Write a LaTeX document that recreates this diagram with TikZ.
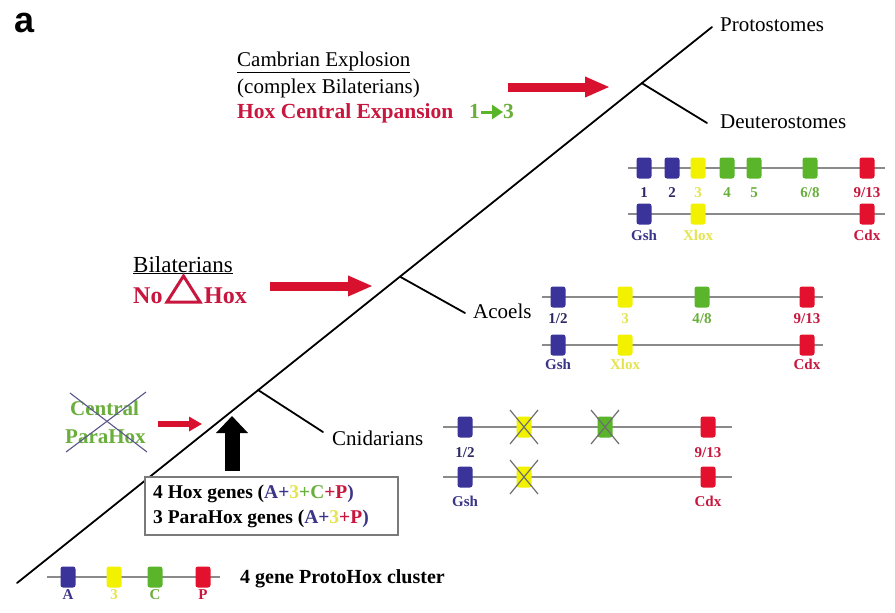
\documentclass[tikz,border=0pt]{standalone}
\usepackage{fontspec}
\setmainfont{Liberation Serif}
\newfontfamily\panelfont{Liberation Sans}
\usetikzlibrary{arrows.meta,calc}

\definecolor{hblue}{HTML}{3A3399}
\definecolor{hyellow}{HTML}{F2F200}
\definecolor{hgreen}{HTML}{5BB52B}
\definecolor{hred}{HTML}{E3112D}
\definecolor{lnavy}{HTML}{2E2A62}
\definecolor{lblue}{HTML}{3B3588}
\definecolor{lyellow}{HTML}{E4E44E}
\definecolor{lgreen}{HTML}{6AAE3C}
\definecolor{lred}{HTML}{C8163E}
\definecolor{arrowred}{HTML}{D8112E}
\definecolor{chromgray}{HTML}{8A8A8A}
\definecolor{crossgray}{HTML}{6E6E6E}
\definecolor{boxgray}{HTML}{7A7A7A}

\tikzset{
  txt/.style={inner sep=0pt, anchor=base west, font=\fontsize{21}{24}\selectfont},
  btxt/.style={inner sep=0pt, anchor=base west, font=\fontsize{21.5}{24}\selectfont\bfseries},
  gene/.style={rectangle, rounded corners=2.5pt, minimum width=15pt,
    minimum height=21pt, inner sep=0pt, draw=none},
  glab/.style={inner sep=0pt, anchor=base, font=\fontsize{15}{18}\selectfont\bfseries},
  chrom/.style={draw=chromgray, line width=1.3pt},
  branch/.style={draw=black, line width=1.8pt, line cap=round},
  redarrow/.style={draw=arrowred, line width=9pt,
    -{Triangle[length=25pt,width=19pt]}},
  knockout/.style={draw=crossgray, line width=1.2pt},
}

% gene box with its label: name, x, y, fill, label text, label colour, label baseline
\newcommand\hgene[7]{%
  \node[gene, fill=#4] (#1) at (#2,#3) {};
  \node[glab, text=#6] (#1-l) at (#2,#7) {#5};}
% gene box struck out with a cross
\newcommand\lostgene[4]{%
  \node[gene, fill=#4] (#1) at (#2,#3) {};
  \draw[knockout] ([shift={(-14,-17)}]#1.center) -- ([shift={(14,17)}]#1.center);
  \draw[knockout] ([shift={(14,-17)}]#1.center) -- ([shift={(-14,17)}]#1.center);}

\begin{document}
\begin{tikzpicture}[x=1pt,y=-1pt]
\useasboundingbox (0,0) rectangle (895,613);
\fill[white] (0,0) rectangle (895,613);

% panel letter
\node[inner sep=0pt, anchor=base west, font=\panelfont\fontsize{36}{40}\selectfont\bfseries]
  (panel) at (14,32) {a};

% ---------- phylogenetic tree ----------
\coordinate (root) at (17,583);
\coordinate (apex) at (712,27);
\draw[branch] (root) -- (apex);
\coordinate (nCni) at ($(root)!0.347!(apex)$);
\coordinate (nAco) at ($(root)!0.551!(apex)$);
\coordinate (nDeu) at ($(root)!0.899!(apex)$);
\coordinate (eCni) at (323,432);
\coordinate (eAco) at (465,313);
\coordinate (eDeu) at (707,123);
\draw[branch] (nCni) -- (eCni);
\draw[branch] (nAco) -- (eAco);
\draw[branch] (nDeu) -- (eDeu);

\node[txt] (proto) at (720,31) {Protostomes};
\node[txt] (deut) at (720,128) {Deuterostomes};
\node[txt] (acoel) at (473,318) {Acoels};
\node[txt] (cnid) at (332,445) {Cnidarians};

% ---------- events along the tree ----------
\node[txt] (camb) at (237,66) {\underline{Cambrian Explosion}};
\node[txt] (cbil) at (237,93) {(complex Bilaterians)};
\node[btxt, text=lred] (hce) at (237,118) {Hox Central Expansion};
\node[btxt, text=lgreen] (one) at (469,118) {1};
\node[btxt, text=lgreen] (three) at (503,118) {3};
\draw[draw=hgreen, line width=3pt, -{Triangle[length=11pt,width=14pt]}]
  ([yshift=6pt]one.base east) ++(1,0) coordinate (ga) (ga) -- ([yshift=6pt]three.base west);

\coordinate (aTop0) at (508,87);
\coordinate (aTop1) at (610,87);
\draw[redarrow] (aTop0) -- (aTop1);

\node[txt, font=\fontsize{23}{26}\selectfont] (bil) at (133,272) {\underline{Bilaterians}};
\node[inner sep=0pt, anchor=base west, text=lred, font=\fontsize{24}{28}\selectfont\bfseries]
  (no) at (133,303) {No};
\coordinate (tA) at (167,302);
\coordinate (tB) at (200,302);
\coordinate (tC) at (183.5,276);
\draw[draw=lred, line width=3pt, line join=miter] (tA) -- (tB) -- (tC) -- cycle;
\node[inner sep=0pt, anchor=base west, text=lred, font=\fontsize{24}{28}\selectfont\bfseries]
  (hox) at (204,303) {Hox};
\coordinate (aMid0) at (270,286);
\coordinate (aMid1) at (373,286);
\draw[redarrow] (aMid0) -- (aMid1);

\node[inner sep=0pt, anchor=base west, text=lgreen, font=\fontsize{21}{24}\selectfont\bfseries]
  (central) at (70,415) {Central};
\node[inner sep=0pt, anchor=base west, text=lgreen, font=\fontsize{21}{24}\selectfont\bfseries]
  (parahox) at (65,443) {ParaHox};
\coordinate (xA) at (70,393);
\coordinate (xB) at (147,452);
\coordinate (xC) at (146,392);
\coordinate (xD) at (66,452);
\draw[draw=crossgray!80!blue, line width=1.1pt] (xA) -- (xB);
\draw[draw=crossgray!80!blue, line width=1.1pt] (xC) -- (xD);
\coordinate (aLow0) at (158,424);
\coordinate (aLow1) at (202,424);
\draw[draw=arrowred, line width=6pt, -{Triangle[length=13pt,width=14pt]}] (aLow0) -- (aLow1);

% black arrow from the gene-count box
\coordinate (bA0) at (232,471);
\coordinate (bA1) at (232,416);
\draw[draw=black, line width=15pt, -{Triangle[length=17pt,width=31pt]}] (bA0) -- (bA1);

\node[draw=boxgray, line width=1.5pt, fill=white, minimum width=253pt, minimum height=58pt,
  inner sep=0pt] (genebox) at (271.5,506) {};
\node[btxt, font=\fontsize{19.5}{22}\selectfont\bfseries] (hoxline) at (153,498)
  {4 Hox genes (\textcolor{lblue}{A+}\textcolor{lyellow}{3}\textcolor{lgreen}{+C}\textcolor{lred}{+P}\textcolor{lblue}{)}};
\node[btxt, font=\fontsize{19.5}{22}\selectfont\bfseries] (paraline) at (153,523)
  {3 ParaHox genes (\textcolor{lblue}{A+}\textcolor{lyellow}{3}\textcolor{lred}{+P}\textcolor{lblue}{)}};

% ---------- gene clusters ----------
% Deuterostomes
\coordinate (dA0) at (628,168); \coordinate (dA1) at (885,168);
\coordinate (dB0) at (628,214); \coordinate (dB1) at (885,214);
\draw[chrom] (dA0) -- (dA1);
\draw[chrom] (dB0) -- (dB1);
\hgene{d1}{644}{168}{hblue}{1}{lnavy}{197}
\hgene{d2}{672}{168}{hblue}{2}{lnavy}{197}
\hgene{d3}{698}{168}{hyellow}{3}{lyellow}{197}
\hgene{d4}{727}{168}{hgreen}{4}{lgreen}{197}
\hgene{d5}{754}{168}{hgreen}{5}{lgreen}{197}
\hgene{d6}{810}{168}{hgreen}{6/8}{lgreen}{197}
\hgene{d9}{867}{168}{hred}{9/13}{lred}{197}
\hgene{dg}{644}{214}{hblue}{Gsh}{lblue}{240}
\hgene{dx}{698}{214}{hyellow}{Xlox}{lyellow}{240}
\hgene{dc}{867}{214}{hred}{Cdx}{lred}{240}

% Acoels
\coordinate (aA0) at (542,297); \coordinate (aA1) at (823,297);
\coordinate (aB0) at (542,345); \coordinate (aB1) at (823,345);
\draw[chrom] (aA0) -- (aA1);
\draw[chrom] (aB0) -- (aB1);
\hgene{a1}{558}{297}{hblue}{1/2}{lnavy}{323}
\hgene{a3}{625}{297}{hyellow}{3}{lyellow}{323}
\hgene{a4}{702}{297}{hgreen}{4/8}{lgreen}{323}
\hgene{a9}{807}{297}{hred}{9/13}{lred}{323}
\hgene{ag}{558}{345}{hblue}{Gsh}{lblue}{369}
\hgene{ax}{625}{345}{hyellow}{Xlox}{lyellow}{369}
\hgene{ac}{807}{345}{hred}{Cdx}{lred}{369}

% Cnidarians
\coordinate (cA0) at (443,427); \coordinate (cA1) at (732,427);
\coordinate (cB0) at (443,477); \coordinate (cB1) at (732,477);
\draw[chrom] (cA0) -- (cA1);
\draw[chrom] (cB0) -- (cB1);
\hgene{c1}{465}{427}{hblue}{1/2}{lnavy}{457}
\lostgene{c3}{524}{427}{hyellow}
\lostgene{c4}{605}{427}{hgreen}
\hgene{c9}{708}{427}{hred}{9/13}{lred}{457}
\hgene{cg}{465}{477}{hblue}{Gsh}{lblue}{506}
\lostgene{cx}{524}{477}{hyellow}
\hgene{cc}{708}{477}{hred}{Cdx}{lred}{506}

% ProtoHox cluster
\coordinate (pA0) at (47,577); \coordinate (pA1) at (220,577);
\draw[chrom] (pA0) -- (pA1);
\hgene{pa}{68}{577}{hblue}{A}{lblue}{599}
\hgene{p3}{114}{577}{hyellow}{3}{lyellow}{599}
\hgene{pc}{155}{577}{hgreen}{C}{lgreen}{599}
\hgene{pp}{203}{577}{hred}{P}{lred}{599}
\node[btxt, font=\fontsize{20}{22}\selectfont\bfseries] (protohox) at (240,583)
  {4 gene ProtoHox cluster};

\end{tikzpicture}
\end{document}
